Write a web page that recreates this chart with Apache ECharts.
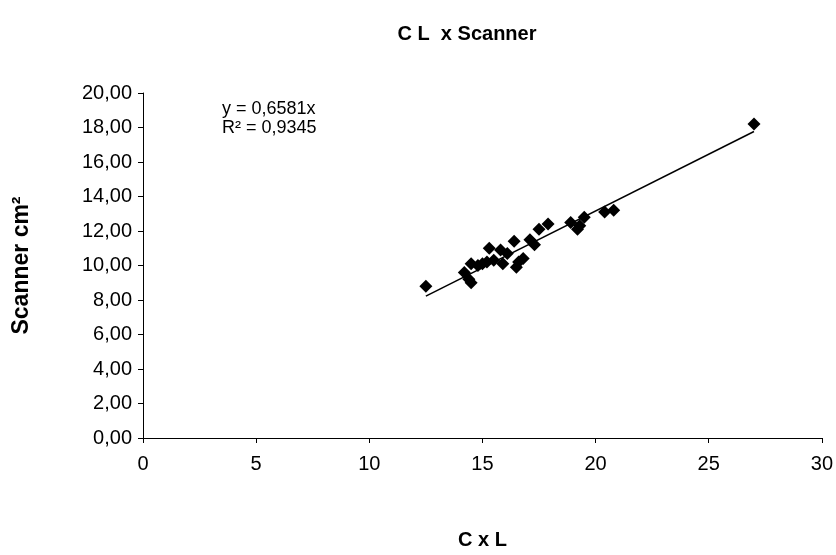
<!DOCTYPE html>
<html>
<head>
<meta charset="utf-8">
<script src="https://cdn.jsdelivr.net/npm/echarts@6/dist/echarts.min.js"></script>
<style>
html,body{margin:0;padding:0;background:#fff;}
#chart{width:836px;height:555px;}
</style>
</head>
<body>
<div id="chart"></div>
<script>
// Data: C x L (x) vs Scanner cm² (y)
var cxl = [12.5, 14.2, 14.4, 14.5, 14.5, 14.8, 15.0, 15.2, 15.3, 15.5, 15.8, 15.9, 16.1, 16.4, 16.5, 16.6, 16.8, 17.1, 17.3, 17.5, 17.9, 18.9, 19.2, 19.3, 19.5, 20.4, 20.8, 27.0];
var scanner = [8.8, 9.6, 9.2, 9.0, 10.1, 10.0, 10.1, 10.2, 11.0, 10.3, 10.9, 10.1, 10.7, 11.4, 9.9, 10.2, 10.4, 11.5, 11.2, 12.1, 12.4, 12.5, 12.1, 12.3, 12.8, 13.1, 13.2, 18.2];
var trendSlope = 0.6581;
var trendR2 = 0.9345;
var xTicks = [0, 5, 10, 15, 20, 25, 30];
var yTicks = [0, 2, 4, 6, 8, 10, 12, 14, 16, 18, 20];

var points = cxl.map(function (x, i) { return [x, scanner[i]]; });
var xMin = Math.min.apply(null, cxl), xMax = Math.max.apply(null, cxl);
var trend = [[xMin, trendSlope * xMin], [xMax, trendSlope * xMax]];

var FONT = '"Liberation Sans", Arial, sans-serif';
var chart = echarts.init(document.getElementById('chart'));
chart.setOption({
  animation: false,
  backgroundColor: '#fff',
  title: {
    text: 'C L  x Scanner',
    left: 462, top: 19, textAlign: 'center',
    textStyle: { fontFamily: FONT, fontWeight: 'bold', fontSize: 20, color: '#000' }
  },
  grid: { left: 143, right: 10, top: 93, bottom: 112, containLabel: false },
  xAxis: {
    type: 'value', min: xTicks[0], max: xTicks[xTicks.length - 1], interval: 5,
    name: 'C x L', nameLocation: 'middle', nameGap: 92,
    nameTextStyle: { fontFamily: FONT, fontWeight: 'bold', fontSize: 20, color: '#000' },
    axisLine: { show: true, onZero: false, lineStyle: { color: '#000', width: 1 } },
    axisTick: { show: true, inside: false, length: 5, lineStyle: { color: '#000' } },
    axisLabel: { margin: 16, fontFamily: FONT, fontSize: 20, color: '#000' },
    splitLine: { show: false }
  },
  yAxis: {
    type: 'value', min: yTicks[0], max: yTicks[yTicks.length - 1], interval: 2,
    name: 'Scanner cm²', nameLocation: 'middle', nameGap: 110, nameRotate: 90,
    nameTextStyle: { fontFamily: FONT, fontWeight: 'bold', fontSize: 23, color: '#000' },
    axisLine: { show: true, lineStyle: { color: '#000', width: 1 } },
    axisTick: { show: true, inside: false, length: 5, lineStyle: { color: '#000' } },
    axisLabel: {
      margin: 11, fontFamily: FONT, fontSize: 20, color: '#000',
      formatter: function (v) { return v.toFixed(2).replace('.', ','); }
    },
    splitLine: { show: false }
  },
  graphic: [
    { type: 'text', left: 222, top: 100, style: { text: 'y = ' + String(trendSlope).replace('.', ',') + 'x', font: '18px "Liberation Sans"', fill: '#000' } },
    { type: 'text', left: 222, top: 119, style: { text: 'R² = ' + String(trendR2).replace('.', ','), font: '18px "Liberation Sans"', fill: '#000' } }
  ],
  series: [
    {
      type: 'line', data: trend, symbol: 'none', silent: true,
      lineStyle: { color: '#000', width: 1.5 }, z: 2
    },
    {
      type: 'scatter', data: points, symbol: 'diamond', symbolSize: 13,
      itemStyle: { color: '#000', opacity: 1 }, z: 3
    }
  ]
});
</script>
</body>
</html>
